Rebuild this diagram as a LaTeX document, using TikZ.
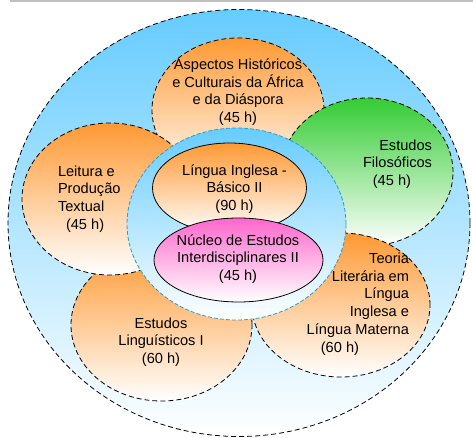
\documentclass[tikz,border=0pt]{standalone}
\usepackage{fontspec}
\setmainfont{Liberation Sans}
\usetikzlibrary{shapes.geometric}

\definecolor{skyblue}{RGB}{102,204,255}
\definecolor{courseorange}{RGB}{255,153,51}
\definecolor{coursegreen}{RGB}{51,204,51}
\definecolor{coursepink}{RGB}{255,102,204}
\definecolor{coredash}{RGB}{51,153,204}

\begin{document}
\begin{tikzpicture}[x=1pt, y=-1pt,
        every node/.style={font=\fontsize{14.6}{17.7}\selectfont, inner sep=0pt, outer sep=0pt},
        disc/.style={ellipse, draw=black, line width=0.8pt, dash pattern=on 5pt off 3pt},
        orangedisc/.style={disc, top color=courseorange, bottom color=white},
        greendisc/.style={disc, top color=coursegreen, bottom color=white},
        innerdisc/.style={ellipse, draw=black, line width=0.8pt},
    ]
\useasboundingbox (0,0) rectangle (473,438);
\draw[black!25, line width=1.2pt] (10,1) -- (473,1);

%outer circle and the five courses around the core
\node[disc, top color=skyblue, bottom color=white, minimum width=462pt, minimum height=427pt] (outer) at (239,223) {};
\node[orangedisc, minimum width=181pt, minimum height=152pt] (linguisticos) at (161.5,325) {};
\node[orangedisc, minimum width=172pt, minimum height=144pt] (aspectos) at (238,110) {};
\node[orangedisc, minimum width=176pt, minimum height=152pt] (leitura) at (110,199) {};
\node[greendisc, minimum width=172pt, minimum height=148pt] (filosoficos) at (367,172) {};
\node[orangedisc, minimum width=178pt, minimum height=144pt] (teoria) at (341,305) {};

%core
\node[ellipse, draw=coredash, line width=0.8pt, dash pattern=on 4pt off 2pt,
      top color=skyblue, bottom color=white, minimum width=219pt, minimum height=192pt] (core) at (236.5,224) {};
\node[innerdisc, top color=courseorange, bottom color=white, minimum width=154pt, minimum height=90pt] (ingles) at (229.5,188) {};
\node[innerdisc, top color=coursepink, bottom color=white, minimum width=169pt, minimum height=84pt] (nucleo) at (238.5,260) {};

%texts
\node[align=center] (aspectos-text) at (238,92) {Aspectos Históricos\\e Culturais da África\\e da Diáspora\\(45 h)};
\node[align=right, anchor=east] (filosoficos-text) at (432,164) {Estudos\\Filosóficos\\(45 h)\hspace*{21pt}};
\node[align=left, anchor=west] (leitura-text) at (58,199) {Leitura e\\Produção\\Textual\\\hspace*{8pt}(45 h)};
\node[align=center] (linguisticos-text) at (161,342) {Estudos\\Linguísticos I\\(60 h)};
\node[align=right, anchor=east] (teoria-text) at (409,304) {Teoria\\Literária em\\Língua\\Inglesa e\\Língua Materna\\(60 h)\hspace*{50pt}};
\node[align=center] (ingles-text) at (234.5,189) {Língua Inglesa -\\Básico II\\(90 h)};
\node[align=center] (nucleo-text) at (238,259) {Núcleo de Estudos\\Interdisciplinares II\\(45 h)};

\end{tikzpicture}
\end{document}
